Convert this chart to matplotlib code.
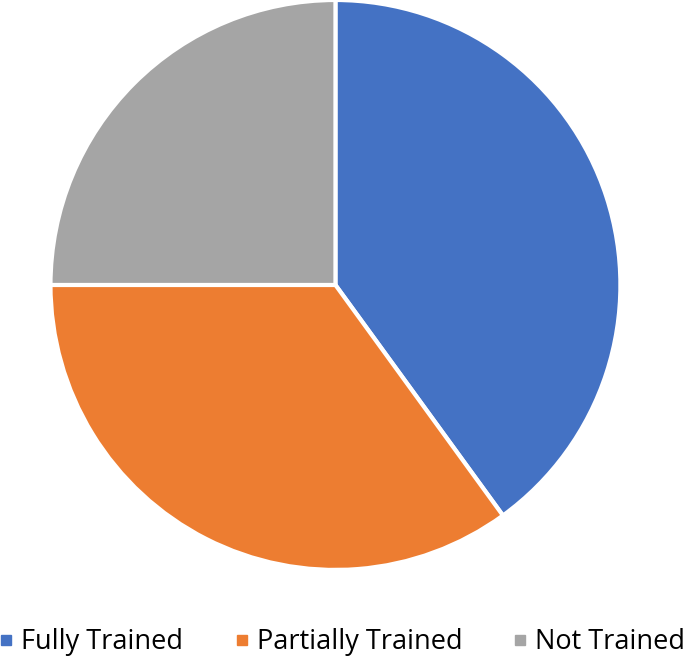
import matplotlib.pyplot as plt
from matplotlib.lines import Line2D

labels = ["Fully Trained", "Partially Trained", "Not Trained"]
values = [40, 35, 25]
colors = ["#4472C4", "#ED7D31", "#A5A5A5"]

plt.rcParams['font.family'] = ['Open Sans', 'DejaVu Sans']

fig = plt.figure(figsize=(6.85, 6.56), dpi=100)
ax = fig.add_axes([0.0737, 0.1311, 0.832, 0.869])
ax.pie(values, colors=colors, startangle=90, counterclock=False,
       wedgeprops=dict(edgecolor="white", linewidth=3))
ax.set_aspect("equal")
ax.set_xlim(-1, 1)
ax.set_ylim(-1, 1)

handles = [Line2D([], [], marker="s", linestyle="", markersize=7,
                  markerfacecolor=c, markeredgecolor=c) for c in colors]
fig.legend(handles, labels, loc="lower center", bbox_to_anchor=(0.5, -0.025),
           ncol=3, frameon=False, fontsize=19.5, handletextpad=0.3,
           columnspacing=1.9, handlelength=0.5, borderaxespad=0.2)

fig.savefig("out.png", dpi=100)
